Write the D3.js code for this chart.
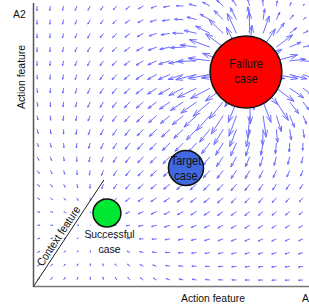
<!DOCTYPE html>
<html>
<head>
<meta charset="utf-8">
<script src="https://cdn.jsdelivr.net/npm/d3@7"></script>
<style>
  html, body { margin: 0; padding: 0; background: #fff; }
  text { font-family: "Liberation Sans", Arial, sans-serif; fill: #111; }
</style>
</head>
<body>
<svg id="chart" width="309" height="308"></svg>
<script>
// cases in feature space (grid units)
const caseNames = ['Failure', 'Target', 'Successful'];
const caseX = [15.71, 11.2, 5.26];
const caseY = [15.18, 8.18, 4.89];
const caseR = [2.7, 1.32, 1.05];
const caseColors = ['#ff0000', '#4169e1', '#00e832'];

// quiver grid
const gridCols = d3.range(0, 21);
const gridRows = d3.range(0, 21);

const svg = d3.select('#chart');
const x = d3.scaleLinear().domain([0, 20]).range([37, 303]);
const y = d3.scaleLinear().domain([0, 20]).range([280, 6]);

// field: pushed away from the failure case, pulled toward the successful case
function field(px, py) {
  const fx = px - caseX[0], fy = py - caseY[0];
  const fd = Math.hypot(fx, fy);
  const rep = Math.pow(4.4 / fd, 1.5);
  const sx = caseX[2] - px, sy = caseY[2] - py;
  const sd = Math.hypot(sx, sy) || 1;
  const att = 0.44 * sd / (sd + 2.2);
  return [fx / fd * rep + sx / sd * att, fy / fd * rep + sy / sd * att];
}

const arrows = [];
gridRows.forEach(function (j) {
  gridCols.forEach(function (i) {
    const v = field(i, j);
    arrows.push({ i: i, j: j, vx: v[0], vy: v[1] });
  });
});

const pxPerUnit = 14;
function arrowPath(d) {
  const x0 = x(d.i), y0 = y(d.j);
  let dx = d.vx * pxPerUnit, dy = -d.vy * pxPerUnit;
  const len = Math.hypot(dx, dy);
  if (len > 22) { dx *= 22 / len; dy *= 22 / len; }
  const x1 = x0 + dx, y1 = y0 + dy;
  const a = 0.33, b = 0.33;
  const hx1 = x1 - a * (dx + b * dy), hy1 = y1 - a * (dy - b * dx);
  const hx2 = x1 - a * (dx - b * dy), hy2 = y1 - a * (dy + b * dx);
  return 'M' + x0 + ',' + y0 + 'L' + x1 + ',' + y1 +
    'M' + hx1 + ',' + hy1 + 'L' + x1 + ',' + y1 + 'L' + hx2 + ',' + hy2;
}

svg.append('g')
  .selectAll('path')
  .data(arrows)
  .enter()
  .append('path')
  .attr('d', arrowPath)
  .attr('fill', 'none')
  .attr('stroke', '#6e6eff')
  .attr('stroke-width', 1);

// axes
svg.append('line')
  .attr('x1', 33.5).attr('y1', 3).attr('x2', 33.5).attr('y2', 287)
  .attr('stroke', '#555').attr('stroke-width', 1.5);
svg.append('line')
  .attr('x1', 33).attr('y1', 286.5).attr('x2', 309).attr('y2', 286.5)
  .attr('stroke', '#777').attr('stroke-width', 1.5);

// narrow-looking text: squeezed horizontally
function label(tx, ty, txt, size, rot, anchor) {
  svg.append('text')
    .attr('transform', 'translate(' + tx + ',' + ty + ') rotate(' + (rot || 0) + ') scale(0.88,1)')
    .attr('text-anchor', anchor || 'middle')
    .attr('font-size', size)
    .text(txt);
}

// context feature line
svg.append('line')
  .attr('x1', 33.5).attr('y1', 286.5).attr('x2', x(5.03)).attr('y2', y(7.3))
  .attr('stroke', '#222').attr('stroke-width', 1);
const ang = Math.atan2(y(7.3) - 286.5, x(5.03) - 33.5) * 180 / Math.PI;
label(61.8, 238.2, 'Context feature', 11.5, ang);

// cases
const cases = svg.append('g')
  .selectAll('g')
  .data(caseNames)
  .enter()
  .append('g');
cases.append('circle')
  .attr('cx', function (d, k) { return x(caseX[k]); })
  .attr('cy', function (d, k) { return y(caseY[k]); })
  .attr('r', function (d, k) { return x(caseR[k]) - x(0); })
  .attr('fill', function (d, k) { return caseColors[k]; })
  .attr('stroke', '#111')
  .attr('stroke-width', 1.5);

label(x(caseX[0]), 68, 'Failure', 12.5);
label(x(caseX[0]), 83, 'case', 12.5);
label(x(caseX[1]), 165, 'Target', 12.5);
label(x(caseX[1]), 180, 'case', 12.5);
label(109.5, 237.5, 'Successful', 11.8);
label(109.5, 252.5, 'case', 11.8);

// axis labels
label(213, 302, 'Action feature', 11.8);
label(302, 302, 'A1', 11.8, 0, 'start');
label(13, 18.3, 'A2', 11.8, 0, 'start');
label(24.5, 77, 'Action feature', 11.8, -90);
</script>
</body>
</html>
